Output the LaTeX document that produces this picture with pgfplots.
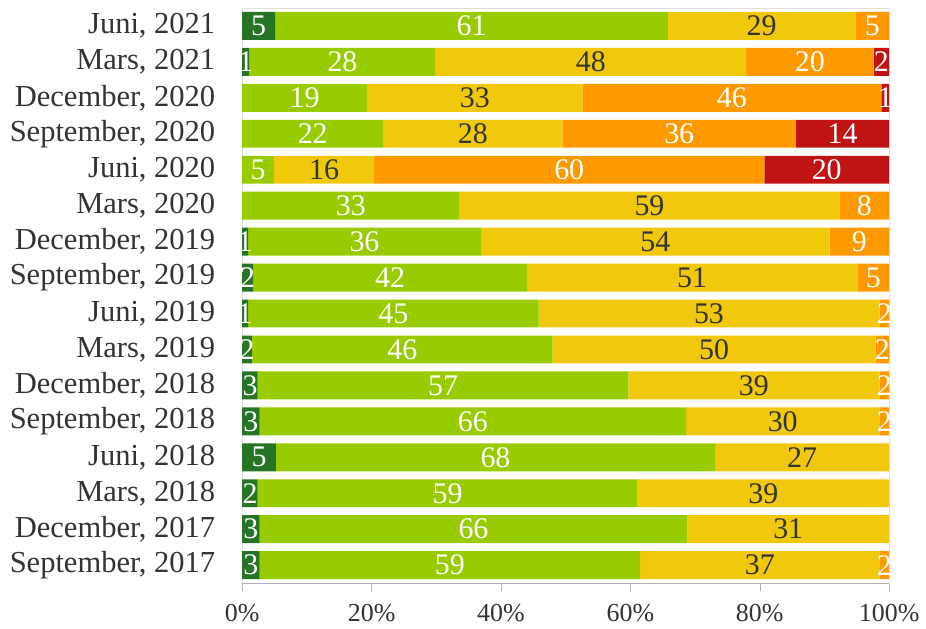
\documentclass[border=0pt]{standalone}
\usepackage{fontspec}
\setmainfont{Liberation Serif}
\usepackage{pgfplots}
\usepackage{pgfplotstable}
\pgfplotsset{compat=1.18}

\definecolor{cdg}{HTML}{277427}
\definecolor{clg}{HTML}{99CC00}
\definecolor{cye}{HTML}{F0C80C}
\definecolor{cor}{HTML}{FF9900}
\definecolor{cre}{HTML}{C01414}
\definecolor{ctxt}{HTML}{333333}

% y = row (0 = top), a..e = segment widths in %, la..le = printed labels
\pgfplotstableread{
y  a    b    c    d    e    la  lb  lc  ld  le
0  5.1  60.7 29.0 5.2  0    5   61  29  5   {}
1  1.1  28.8 48.0 19.7 2.4  1   28  48  20  2
2  0    19.3 33.3 46.2 1.2  {}  19  33  46  1
3  0    21.8 27.7 36.1 14.4 {}  22  28  36  14
4  0    4.9  15.5 60.3 19.3 {}  5   16  60  20
5  0    33.6 58.7 7.7  0    {}  33  59  8   {}
6  0.9  36.0 53.9 9.2  0    1   36  54  9   {}
7  1.7  42.3 51.1 4.9  0    2   42  51  5   {}
8  0.9  44.9 52.7 1.5  0    1   45  53  2   {}
9  1.5  46.5 49.9 2.1  0    2   46  50  2   {}
10 2.4  57.3 38.8 1.5  0    3   57  39  2   {}
11 2.7  65.9 29.9 1.5  0    3   66  30  2   {}
12 5.2  67.9 26.9 0    0    5   68  27  {}  {}
13 2.4  58.7 38.9 0    0    2   59  39  {}  {}
14 2.7  66.1 31.2 0    0    3   66  31  {}  {}
15 2.7  58.8 37.0 1.5  0    3   59  37  2   {}
}\data

\pgfplotsset{
  frame/.style={scale only axis, width=324.5pt, height=288.5pt,
    xmin=0, xmax=100, ymin=-0.5, ymax=15.5, y dir=reverse},
  lab/.style={draw=none, nodes near coords, point meta=explicit symbolic,
    every node near coord/.style={anchor=center, inner sep=0pt,
      font=\fontsize{15}{17}\selectfont, text=#1}},
}

\begin{document}
\begin{tikzpicture}
\begin{axis}[frame,
  xbar stacked, bar width=14pt,
  ytick={0,...,15},
  yticklabels={{Juni, 2021},{Mars, 2021},{December, 2020},{September, 2020},
    {Juni, 2020},{Mars, 2020},{December, 2019},{September, 2019},
    {Juni, 2019},{Mars, 2019},{December, 2018},{September, 2018},
    {Juni, 2018},{Mars, 2018},{December, 2017},{September, 2017}},
  xtick={0,20,...,100},
  xticklabel={\pgfmathprintnumber{\tick}\%},
  /pgf/number format/assume math mode=true,
  axis line style={gray!25},
  xtick pos=bottom, tick align=outside, major tick length=4pt,
  xtick style={gray!60}, ytick style={draw=none},
  yticklabel style={font=\fontsize{15.3}{17}\selectfont, text=ctxt, xshift=-6pt},
  xticklabel style={font=\fontsize{13}{15}\selectfont, text=ctxt, yshift=-3pt},
]
\addplot[fill=cdg, draw=none] table[x=a, y=y] {\data};
\addplot[fill=clg, draw=none] table[x=b, y=y] {\data};
\addplot[fill=cye, draw=none] table[x=c, y=y] {\data};
\addplot[fill=cor, draw=none] table[x=d, y=y] {\data};
\addplot[fill=cre, draw=none] table[x=e, y=y] {\data};
\draw[gray!60] (axis description cs:0,0) -- (axis description cs:1,0);
\end{axis}
\begin{axis}[frame, hide axis, clip=false]
\addplot[lab=white] table[x expr=\thisrow{a}/2, y=y, meta=la] {\data};
\addplot[lab=white] table[x expr=\thisrow{a}+\thisrow{b}/2, y=y, meta=lb] {\data};
\addplot[lab=ctxt] table[x expr=\thisrow{a}+\thisrow{b}+\thisrow{c}/2, y=y, meta=lc] {\data};
\addplot[lab=white] table[x expr=\thisrow{a}+\thisrow{b}+\thisrow{c}+\thisrow{d}/2, y=y, meta=ld] {\data};
\addplot[lab=white] table[x expr=100-\thisrow{e}/2, y=y, meta=le] {\data};
\end{axis}
\path ([shift={(-121.5pt,-21.5pt)}]current axis.south west)
  rectangle ([shift={(17pt,4pt)}]current axis.north east);
\end{tikzpicture}
\end{document}
